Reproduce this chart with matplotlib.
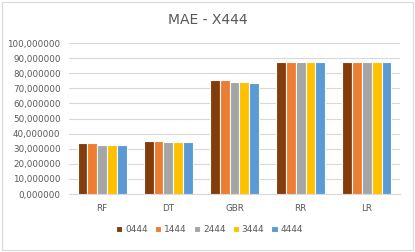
import matplotlib
matplotlib.use("Agg")
import matplotlib.pyplot as plt
import numpy as np

categories = ["RF", "DT", "GBR", "RR", "LR"]
series_names = ["0444", "1444", "2444", "3444", "4444"]
s0444 = [33.5, 35.3, 75.4, 87.7, 87.7]
s1444 = [33.5, 35.3, 75.4, 87.7, 87.7]
s2444 = [32.7, 34.2, 74.1, 87.7, 87.7]
s3444 = [32.6, 34.2, 74.1, 87.7, 87.7]
s4444 = [32.7, 34.2, 73.4, 87.7, 87.7]
series = [s0444, s1444, s2444, s3444, s4444]
colors = ["#843C0C", "#ED7D31", "#A5A5A5", "#FFC000", "#5B9BD5"]
yticks = list(range(0, 101, 10))

fig = plt.figure(figsize=(4.15, 2.52), dpi=100)
fig.patch.set_facecolor("white")
ax = fig.add_axes([0.166, 0.230, 0.798, 0.599])

x = np.arange(len(categories))
w = 0.148
for i, (name, vals) in enumerate(zip(series_names, series)):
    ax.bar(x + (i - 2) * w, vals, width=w, color=colors[i], edgecolor="white",
           linewidth=0.8, label=name, zorder=3)

ax.set_ylim(0, 100)
ax.set_xlim(-0.5, len(categories) - 0.5)
ax.set_yticks(yticks)
ax.set_yticklabels([f"{v},000000" for v in yticks])
ax.set_xticks(x)
ax.set_xticklabels(categories)
ax.tick_params(axis="both", length=0, labelsize=6.3, colors="#595959", pad=6)
ax.tick_params(axis="x", pad=7)
ax.grid(axis="y", color="#D9D9D9", linewidth=0.8, zorder=0)
for s in ["top", "right", "left"]:
    ax.spines[s].set_visible(False)
ax.spines["bottom"].set_color("#D9D9D9")
ax.spines["bottom"].set_linewidth(0.8)

fig.text(0.5, 0.92, "MAE - X444", ha="center", va="center", fontsize=10, color="#595959")

fig.legend(loc="center", bbox_to_anchor=(0.505, 0.088), ncol=5, frameon=False,
           fontsize=6.5, handlelength=0.7, handleheight=0.7, handletextpad=0.3,
           columnspacing=0.8, labelcolor="#595959")

border = plt.Rectangle((0.006, 0.006), 0.988, 0.985, transform=fig.transFigure,
                       fill=False, edgecolor="#D9D9D9", linewidth=0.8)
fig.patches.append(border)

fig.savefig("out.png", dpi=100, facecolor="white")
